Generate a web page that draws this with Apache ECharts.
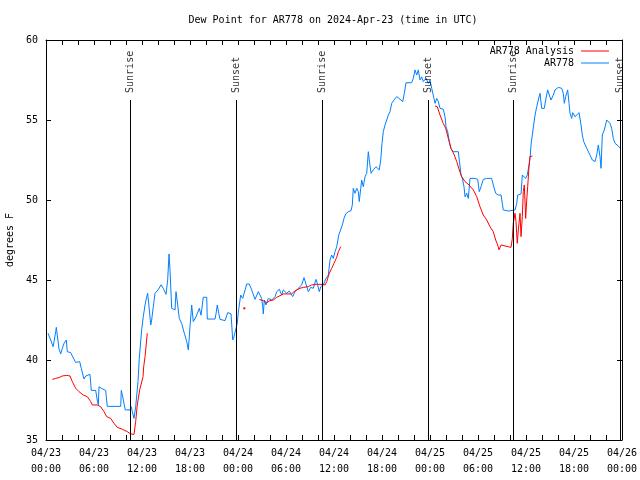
<!DOCTYPE html>
<html>
<head>
<meta charset="utf-8">
<script src="https://cdn.jsdelivr.net/npm/echarts@6/dist/echarts.min.js"></script>
<style>html,body{margin:0;padding:0;background:#fff}#c{width:640px;height:480px}</style>
</head>
<body>
<div id="c"></div>
<script>
// hours since 2024-04-23 00:00 UTC
const xTickLabels = ['04/23\n00:00','04/23\n06:00','04/23\n12:00','04/23\n18:00','04/24\n00:00','04/24\n06:00','04/24\n12:00','04/24\n18:00','04/25\n00:00','04/25\n06:00','04/25\n12:00','04/25\n18:00','04/26\n00:00'];
const yTicks = [35, 40, 45, 50, 55, 60];

const obsTimes = [0.25,0.59,0.88,1.0,1.21,1.29,1.41,1.63,1.84,2.04,2.25,2.54,2.66,3.09,3.29,3.71,4.21,4.41,4.75,4.96,5.16,5.5,5.66,6.21,6.41,6.54,6.63,6.91,7.46,7.66,9.34,9.41,9.59,9.91,10.5,10.66,10.79,11.0,11.21,11.5,11.66,11.96,12.16,12.38,12.59,12.71,12.88,13.09,13.21,13.41,13.63,13.84,14.04,14.38,14.66,15.0,15.21,15.38,15.5,15.71,15.91,16.13,16.25,16.46,16.66,16.96,17.29,17.59,17.79,18.0,18.21,18.41,18.75,19.16,19.38,19.66,20.09,20.16,21.13,21.25,21.41,21.59,21.75,22.38,22.59,22.71,23.13,23.34,23.5,23.71,23.91,24.04,24.34,24.59,24.79,25.09,25.41,25.71,26.13,26.54,26.75,26.96,27.09,27.16,27.29,27.5,27.79,28.21,28.63,28.84,29.16,29.46,29.66,29.88,30.09,30.41,30.84,31.13,31.54,31.96,32.25,32.5,32.79,33.09,33.41,33.75,33.91,34.16,34.34,34.66,35.0,35.29,35.5,35.71,35.91,36.13,36.34,36.59,36.84,37.04,37.25,37.46,37.79,38.13,38.29,38.41,38.63,38.84,39.04,39.16,39.34,39.46,39.66,39.88,40.09,40.29,40.41,40.63,40.91,41.25,41.66,41.84,42.0,42.16,42.38,42.59,42.79,43.0,43.21,43.5,43.84,44.13,44.34,44.59,44.79,45.0,45.71,45.91,46.13,46.34,46.54,46.75,46.96,47.16,47.5,47.79,48.0,48.21,48.29,48.5,48.63,48.84,49.04,49.25,49.66,49.88,50.0,50.21,50.38,50.59,50.91,51.54,51.66,51.88,52.04,52.25,52.38,52.59,52.79,53.0,53.63,53.96,54.16,54.38,54.66,55.09,55.71,55.91,56.21,56.54,56.88,57.04,57.16,57.79,58.63,58.84,58.96,59.38,59.54,59.79,59.96,60.16,60.38,60.54,60.63,60.79,60.96,61.13,61.34,61.54,61.75,61.96,62.29,62.46,62.71,62.91,63.13,63.41,63.63,64.04,64.46,64.66,64.79,64.96,65.21,65.38,65.5,65.71,65.84,66.13,66.34,66.63,66.88,67.04,67.21,67.59,68.0,68.29,68.63,68.84,69.04,69.25,69.38,69.54,69.79,70.09,70.5,70.71,70.91,71.13,71.54,71.84];
const obsValues = [41.67,41.25,40.83,41.15,41.77,42.04,41.56,40.67,40.38,40.73,41.04,41.25,40.52,40.46,40.25,39.85,39.9,39.48,38.81,39.0,39.1,39.1,38.1,38.1,37.5,37.2,38.33,38.23,38.1,37.1,37.1,38.1,37.7,36.88,36.88,37.08,36.77,36.35,37.08,38.65,40.1,41.9,42.7,43.44,43.96,44.17,43.33,42.19,42.5,43.33,44.17,44.2,44.4,44.7,44.48,44.1,45.0,46.63,45.63,43.23,43.33,43.13,44.27,43.44,42.6,42.29,41.67,41.15,40.63,42.08,43.44,42.4,42.7,43.23,42.8,43.92,43.92,42.56,42.56,42.88,43.44,42.92,42.54,42.46,42.4,42.96,42.88,41.25,41.46,41.56,42.3,43.0,44.06,43.85,43.96,44.75,44.75,44.38,43.79,44.27,44.38,43.85,43.33,42.88,43.75,43.44,43.85,43.75,43.96,44.27,44.42,44.06,44.38,44.42,44.17,44.31,43.96,44.27,44.48,44.69,45.15,45.04,44.27,44.54,44.48,45.04,44.79,44.27,44.58,44.69,45.1,45.31,46.25,46.56,46.35,46.77,47.08,47.8,47.92,48.44,48.85,49.13,49.27,49.33,49.69,50.73,50.42,50.73,50.52,49.9,50.73,51.25,50.83,51.46,51.67,53.02,52.5,51.67,51.88,52.08,51.88,52.5,53.54,54.27,54.69,55.0,55.31,55.52,56.04,56.25,56.46,56.35,56.46,56.15,56.67,57.33,57.33,57.6,58.13,57.81,58.13,57.5,57.7,57.4,57.6,57.29,57.5,56.98,56.88,56.35,56.04,56.35,56.15,55.73,55.67,55.2,54.58,54.27,53.75,53.23,53.02,53.02,52.5,51.56,51.35,50.83,50.2,50.42,50.1,51.35,51.35,51.29,50.52,50.83,51.29,51.35,51.35,50.94,50.42,50.31,50.31,49.79,49.38,49.31,49.38,49.79,50.31,50.38,51.56,51.56,51.35,51.56,52.19,52.81,53.44,54.06,54.69,55.31,55.83,56.25,56.67,55.73,55.73,56.25,56.88,56.56,56.25,56.56,56.88,57.04,56.98,56.67,56.04,56.46,56.88,56.04,55.42,55.1,55.46,55.2,55.1,55.46,54.69,54.06,53.65,53.23,52.81,52.5,52.4,52.81,53.44,52.71,51.98,54.06,54.38,55.0,54.79,54.48,53.85,53.54,53.38,53.2];

// null marks a gap in the analysis
const anaTimes = [0.79,1.21,1.63,2.04,2.59,3.0,3.29,3.71,4.13,4.66,5.16,5.59,5.79,6.41,6.84,7.25,7.59,8.09,8.5,8.91,9.54,10.16,10.59,11.0,11.21,11.41,11.71,11.96,12.13,12.21,12.38,12.66,null,24.79,null,26.66,27.16,27.59,28.0,28.41,28.84,29.25,29.66,30.71,31.0,31.34,31.75,32.16,32.79,33.21,33.84,34.25,34.88,35.09,35.41,35.71,36.0,36.34,36.54,36.84,null,48.63,48.91,49.25,49.66,49.96,50.29,50.63,51.04,51.34,51.66,51.96,52.38,52.88,53.41,53.84,54.25,54.66,55.09,55.5,55.91,56.21,56.46,56.63,56.88,57.38,57.79,58.13,58.29,58.41,58.63,58.75,58.91,59.04,59.25,59.38,59.54,59.66,59.79,59.96,60.09,60.21,60.38,60.5,60.79];
const anaValues = [38.79,38.85,38.9,39.0,39.04,39.0,38.65,38.23,38.02,37.81,37.71,37.4,37.19,37.19,37.08,36.77,36.46,36.35,36.04,35.79,35.67,35.52,35.38,35.35,36.15,37.19,38.13,38.23,38.96,39.58,40.2,41.67,null,43.23,null,43.79,43.71,43.58,43.71,43.75,43.92,44.02,44.13,44.13,44.27,44.38,44.48,44.54,44.58,44.69,44.73,44.73,44.69,44.9,45.42,45.73,46.04,46.42,46.77,47.08,null,55.88,55.83,55.31,54.79,54.48,53.85,53.23,52.81,52.4,51.88,51.46,51.15,50.94,50.63,50.21,49.58,49.06,48.75,48.33,48.02,47.5,47.19,46.88,47.19,47.13,47.08,47.04,47.6,48.54,49.17,48.65,47.29,48.13,49.17,47.71,48.96,50.52,50.94,48.85,50.0,50.83,52.08,52.71,52.75];

const sunTimes = [10.5, 23.75, 34.5, 47.8, 58.4, 71.8];
const sunNames = ['Sunrise','Sunset','Sunrise','Sunset','Sunrise','Sunset'];

const FONT = 'DejaVu Sans Mono';

const obsData = obsTimes.map((t, i) => [t, obsValues[i]]);
const anaData = anaTimes.map((t, i) => {
  if (t === null) return ['-', '-'];
  const isolated = (i === 0 || anaTimes[i-1] === null) && (i === anaTimes.length-1 || anaTimes[i+1] === null);
  if (isolated) return { value: [t, anaValues[i]], symbol: 'rect', symbolSize: 2, itemStyle: { color: '#ff0000' } };
  return [t, anaValues[i]];
});

const lineTop = 56.25, labelBase = 56.69;
const sunLines = sunTimes.map(t => [{ coord: [t, 35] }, { coord: [t, lineTop] }]);
const sunLabels = sunTimes.map((t, i) => ({ value: [t, labelBase], name: sunNames[i] }));

const chart = echarts.init(document.getElementById('c'), null, { renderer: 'canvas' });

const xBase = {
  type: 'value', min: 0, max: 72, interval: 2,
  axisLine: { show: true, onZero: false, lineStyle: { color: '#000', width: 1 } },
  axisTick: { show: true, inside: true, length: 5, lineStyle: { color: '#000' } },
  splitLine: { show: false }
};
const yBase = {
  type: 'value', min: 35, max: 60, interval: 5,
  axisLine: { show: true, onZero: false, lineStyle: { color: '#000', width: 1 } },
  axisTick: { show: true, inside: true, length: 5, lineStyle: { color: '#000' } },
  splitLine: { show: false }
};

chart.setOption({
  animation: false,
  backgroundColor: '#fff',
  title: {
    text: 'Dew Point for AR778 on 2024-Apr-23 (time in UTC)',
    left: 328, top: 10, textAlign: 'center',
    textStyle: { fontFamily: FONT, fontSize: 10, fontWeight: 'normal', color: '#000' }
  },
  legend: {
    orient: 'vertical', right: 26, top: 41, align: 'right',
    icon: 'rect', itemWidth: 28, itemHeight: 1, itemGap: 2,
    data: ['AR778 Analysis', 'AR778'],
    textStyle: { fontFamily: FONT, fontSize: 10, color: '#000', padding: [0, 2, 0, 0] }
  },
  grid: { left: 46, right: 18, top: 40, bottom: 40, outerBoundsMode: 'none', containLabel: false },
  xAxis: [
    Object.assign({}, xBase, {
      position: 'bottom',
      axisLabel: {
        interval: 0, margin: 5, color: '#000', fontFamily: FONT, fontSize: 10, lineHeight: 16,
        formatter: v => (Math.round(v) % 6 === 0 ? xTickLabels[Math.round(v) / 6] : '')
      }
    }),
    Object.assign({}, xBase, { position: 'top', axisLabel: { show: false } })
  ],
  yAxis: [
    Object.assign({}, yBase, {
      position: 'left',
      name: 'degrees F', nameLocation: 'middle', nameGap: 31, nameRotate: 90,
      nameTextStyle: { fontFamily: FONT, fontSize: 10, color: '#000' },
      axisLabel: { margin: 8, color: '#000', fontFamily: FONT, fontSize: 10,
        formatter: v => (yTicks.indexOf(v) >= 0 ? String(v) : '') }
    }),
    Object.assign({}, yBase, { position: 'right', axisLabel: { show: false } })
  ],
  series: [
    {
      name: 'AR778 Analysis', type: 'line', data: anaData,
      symbol: 'none', showSymbol: true, connectNulls: false,
      lineStyle: { color: '#ff0000', width: 1 }, itemStyle: { color: '#ff0000' },
      z: 3
    },
    {
      name: 'AR778', type: 'line', data: obsData,
      symbol: 'none', showSymbol: false,
      lineStyle: { color: '#0080ff', width: 1 }, itemStyle: { color: '#0080ff' },
      z: 2
    },
    {
      name: 'sun', type: 'scatter', data: sunLabels, symbolSize: 0, silent: true,
      label: {
        show: true, position: 'inside', rotate: 90, align: 'left', verticalAlign: 'middle',
        formatter: p => p.name, fontFamily: FONT, fontSize: 10, color: '#000'
      },
      markLine: {
        silent: true, symbol: 'none', animation: false,
        label: { show: false },
        lineStyle: { color: '#000', width: 1, type: 'solid' },
        data: sunLines
      },
      z: 4
    }
  ]
});
</script>
</body>
</html>
